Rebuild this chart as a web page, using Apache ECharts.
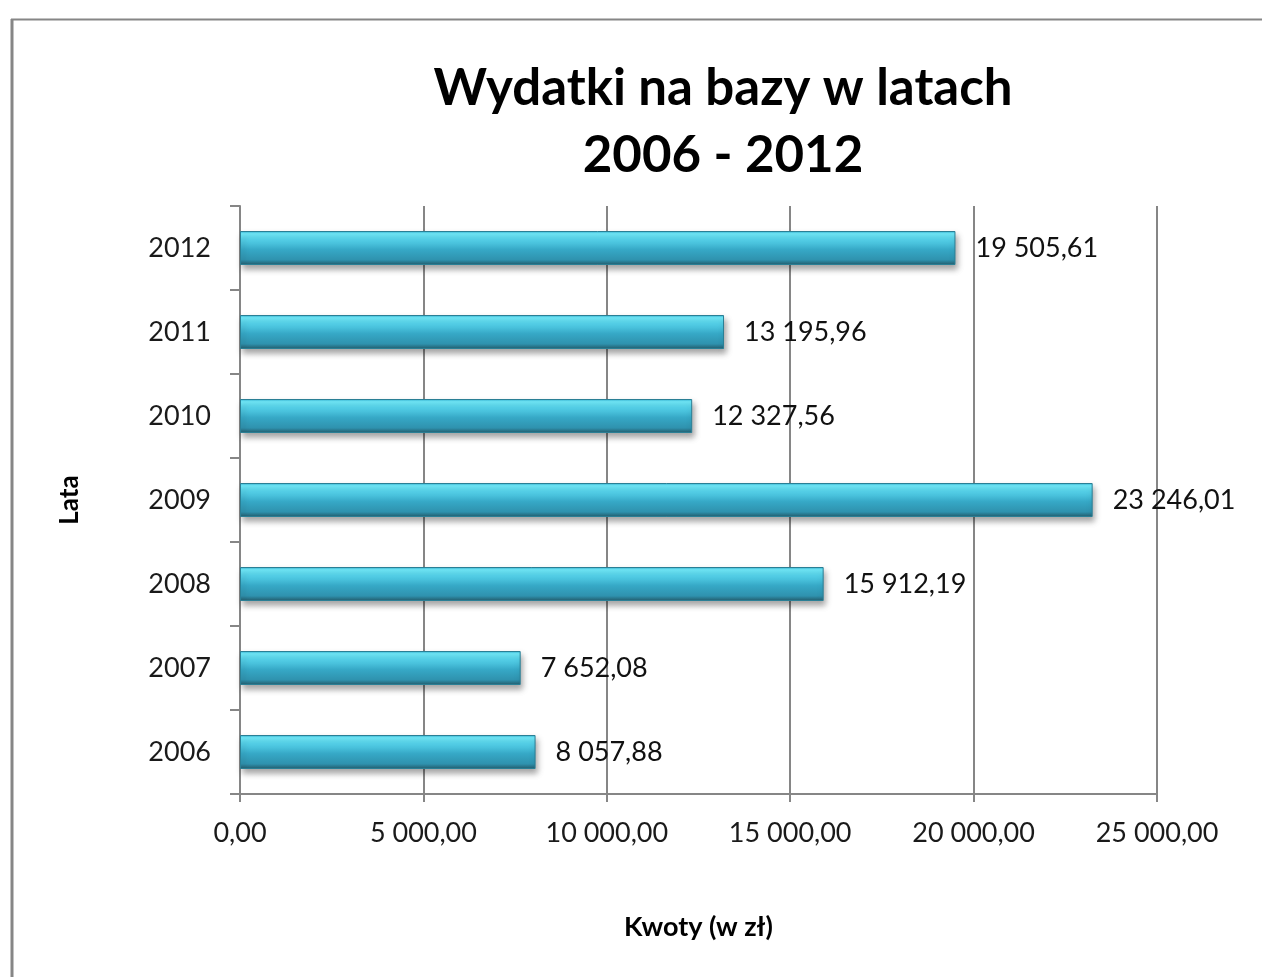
<!DOCTYPE html>
<html><head><meta charset="utf-8">
<script src="https://cdn.jsdelivr.net/npm/echarts@6/dist/echarts.min.js"></script>
<style>html,body{margin:0;padding:0;background:#fff}#c{width:1262px;height:977px}</style>
</head><body><div id="c"></div>
<script>
const years = ['2006','2007','2008','2009','2010','2011','2012'];
const amounts = [8057.88, 7652.08, 15912.19, 23246.01, 12327.56, 13195.96, 19505.61];
const xTicks = [0, 5000, 10000, 15000, 20000, 25000];
const titleText = 'Wydatki na bazy w latach\n2006 - 2012';
const xName = 'Kwoty (w zł)';
const yName = 'Lata';

function fmt(v){
  const parts = Number(v).toFixed(2).split('.');
  const intPart = parts[0].replace(/\B(?=(\d{3})+(?!\d))/g, ' ');
  return intPart + ',' + parts[1];
}
const FONT = 'Lato';
const chart = echarts.init(document.getElementById('c'), null, {renderer:'canvas'});
chart.setOption({
  backgroundColor:'#fff',
  animation:false,
  title:{
    text:titleText, left:718, top:50, textAlign:'center',
    textStyle:{fontFamily:FONT, fontWeight:'bold', fontSize:51, lineHeight:67, color:'#000'}
  },
  graphic:[
    {type:'line', shape:{x1:12, y1:19, x2:12, y2:977}, style:{stroke:'#868686', lineWidth:3}},
    {type:'line', shape:{x1:11, y1:19.5, x2:1262, y2:19.5}, style:{stroke:'#868686', lineWidth:2}}
  ],
  grid:{left:240, right:105, top:206, bottom:183, containLabel:false},
  xAxis:{
    type:'value', min:xTicks[0], max:xTicks[xTicks.length-1], interval:5000,
    name:xName, nameLocation:'middle', nameGap:120,
    nameTextStyle:{fontFamily:FONT, fontWeight:'bold', fontSize:27, color:'#000'},
    axisLine:{show:true, lineStyle:{color:'#868686', width:2}},
    axisTick:{show:true, length:8, lineStyle:{color:'#868686', width:2}},
    axisLabel:{formatter:fmt, fontFamily:FONT, fontSize:27, color:'#1a1a1a', margin:26},
    splitLine:{show:true, lineStyle:{color:'#868686', width:2}}
  },
  yAxis:{
    type:'category', data:years,
    name:yName, nameLocation:'middle', nameGap:157, nameRotate:90,
    nameTextStyle:{fontFamily:FONT, fontWeight:'bold', fontSize:26, color:'#000'},
    axisLine:{show:true, lineStyle:{color:'#868686', width:2}},
    axisTick:{show:true, length:10, lineStyle:{color:'#868686', width:2}},
    axisLabel:{fontFamily:FONT, fontSize:27, color:'#1a1a1a', margin:29},
    splitLine:{show:false}
  },
  series:[{
    type:'bar', data:amounts, barWidth:34,
    itemStyle:{
      color:new echarts.graphic.LinearGradient(0,0,0,1,[
        {offset:0, color:'#30aed0'},
        {offset:0.08, color:'#72ecfc'},
        {offset:0.25, color:'#55d2ea'},
        {offset:0.55, color:'#36a8c6'},
        {offset:0.85, color:'#2f92ae'},
        {offset:1, color:'#245c6c'}
      ]),
      borderColor:'#2a7f95', borderWidth:1,
      shadowColor:'rgba(0,0,0,0.35)', shadowBlur:6, shadowOffsetY:4, shadowOffsetX:2
    },
    label:{show:true, position:'right', distance:20, formatter:p=>fmt(p.value),
      fontFamily:FONT, fontSize:27, color:'#111'}
  }]
});
</script></body></html>
